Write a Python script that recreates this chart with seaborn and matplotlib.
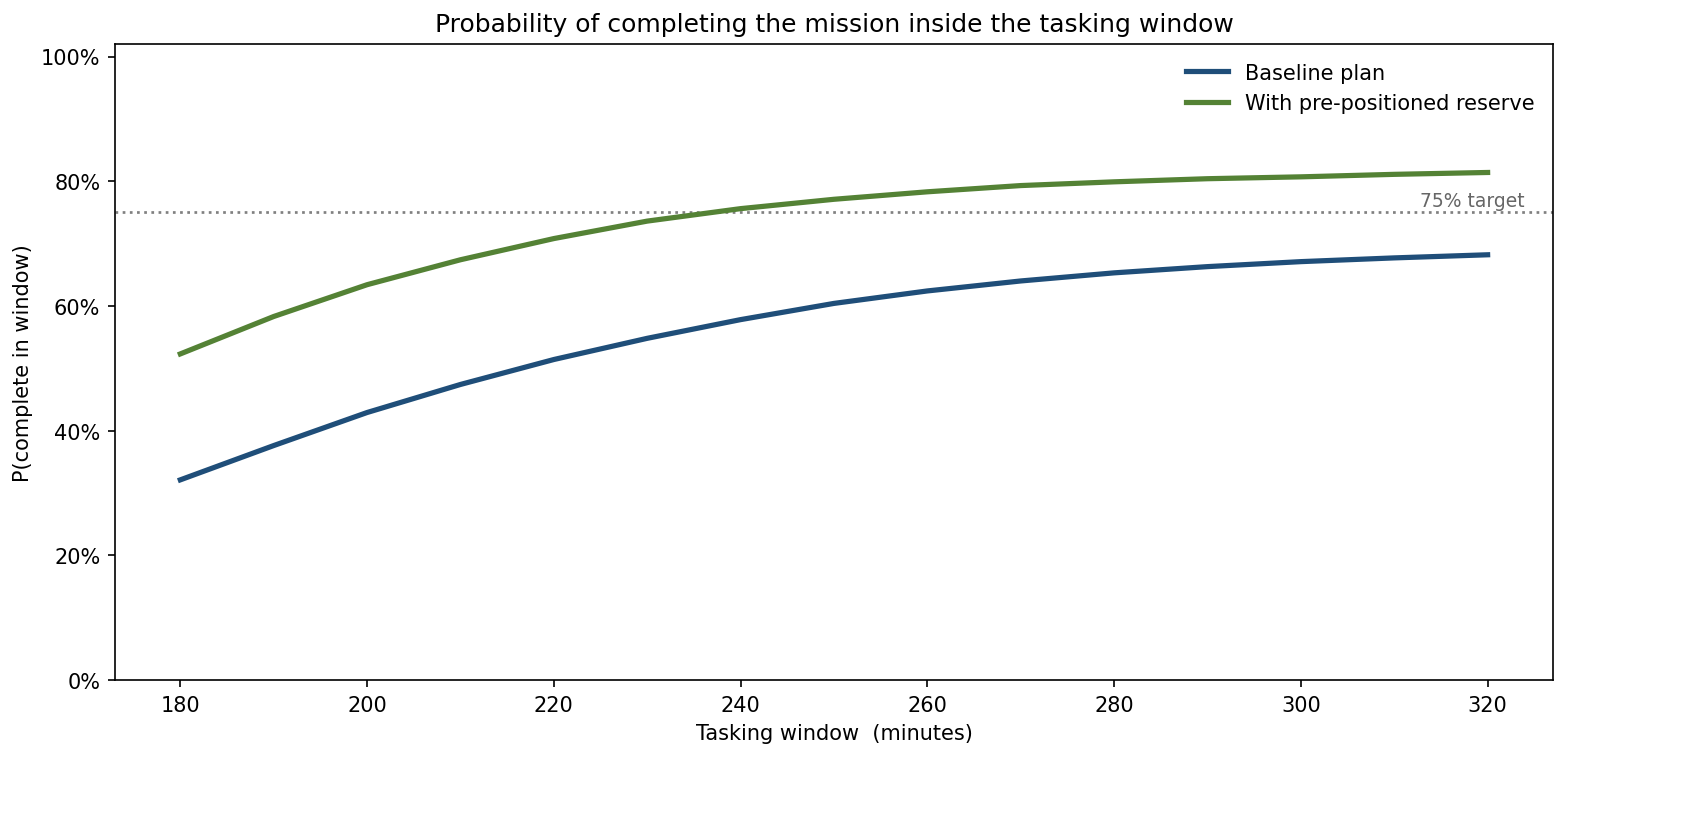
import matplotlib
matplotlib.use("Agg")
import matplotlib.pyplot as plt
import seaborn as sns
import pandas as pd
from matplotlib.ticker import PercentFormatter

window = [180, 190, 200, 210, 220, 230, 240, 250, 260, 270, 280, 290, 300, 310, 320]
baseline = [0.321, 0.376, 0.429, 0.474, 0.514, 0.548, 0.578, 0.604, 0.624, 0.640, 0.653, 0.663, 0.671, 0.677, 0.682]
reserve = [0.523, 0.583, 0.634, 0.674, 0.708, 0.736, 0.756, 0.771, 0.783, 0.793, 0.799, 0.804, 0.807, 0.811, 0.814]
series_names = ["Baseline plan", "With pre-positioned reserve"]
colors = ["#1f4e79", "#548235"]
target = 0.75

df = pd.DataFrame({
    "window": window * 2,
    "p": baseline + reserve,
    "plan": [series_names[0]] * len(window) + [series_names[1]] * len(window),
})

plt.rcParams['font.family'] = ['DejaVu Sans']

fig, ax = plt.subplots(figsize=(11.32, 5.453), dpi=150)
fig.subplots_adjust(left=0.0677, right=0.9146, top=0.945, bottom=0.1675)

sns.lineplot(data=df, x="window", y="p", hue="plan", palette=colors,
             hue_order=series_names, linewidth=2.5, ax=ax)

ax.axhline(target, color="gray", linestyle=":", linewidth=1.3, zorder=1)
ax.text(0.98, target + 0.004, "75% target", transform=ax.get_yaxis_transform(),
        ha="right", va="bottom", fontsize=9, color="#666666")

ax.set_ylim(0, 1.02)
ax.yaxis.set_major_formatter(PercentFormatter(1.0, decimals=0))
ax.set_xlabel("Tasking window  (minutes)")
ax.set_ylabel("P(complete in window)")
ax.set_title("Probability of completing the mission inside the tasking window", fontsize=12)
ax.legend(loc="upper right", frameon=False)

fig.savefig("out.png", dpi=150)
